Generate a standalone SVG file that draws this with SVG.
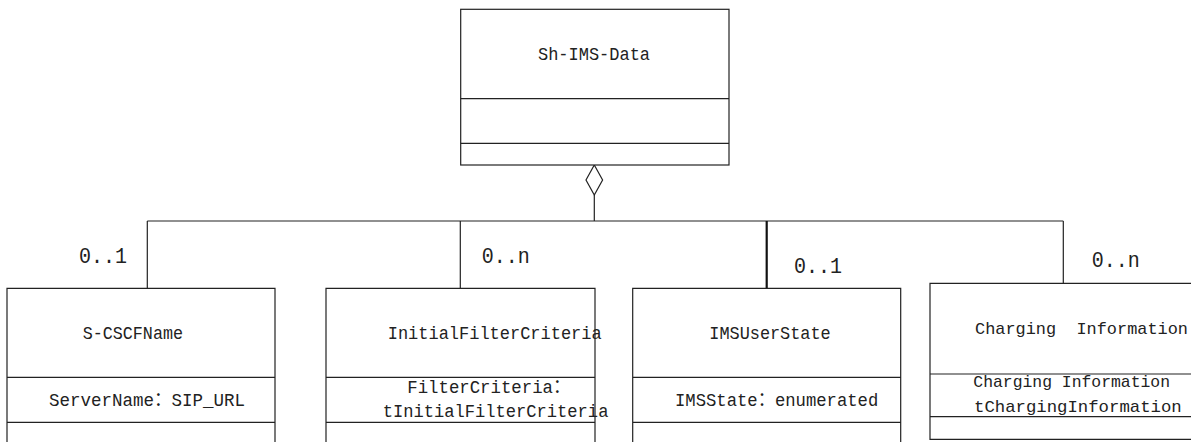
<svg xmlns="http://www.w3.org/2000/svg" width="1191" height="442" viewBox="0 0 1191 442">
<style>
.box{fill:#fff;stroke:#222;stroke-width:1.2}
.ln{stroke:#222;stroke-width:1.2;fill:none}
.t{font-family:"Liberation Mono","Noto Sans CJK SC",monospace;font-size:19px;fill:#222;white-space:pre}
.t4{font-family:"Liberation Mono","Noto Sans CJK SC",monospace;font-size:17px;fill:#222;white-space:pre}
.m{font-family:"Liberation Mono","Noto Sans CJK SC",monospace;font-size:22px;fill:#222}
</style>
<rect width="1191" height="442" fill="#fff"/>
<g id="connectors">
<path class="ln" d="M594.3 195 V221 M147.3 221 H1063.3 M147.3 221 V288.3 M460.3 221 V288.3 M1063.3 221 V283.3"/>
<path d="M766.7 221 V288.3" stroke="#111" stroke-width="2.2" fill="none"/>
<path class="ln" d="M594.3 165 L602.6 180 L594.3 195 L586 180 Z" fill="#fff"/>
<text class="m" x="79" y="263" textLength="48" lengthAdjust="spacingAndGlyphs">0..1</text>
<text class="m" x="481.7" y="263.3" textLength="48" lengthAdjust="spacingAndGlyphs">0..n</text>
<text class="m" x="794" y="272.7" textLength="48" lengthAdjust="spacingAndGlyphs">0..1</text>
<text class="m" x="1091.7" y="267.3" textLength="48" lengthAdjust="spacingAndGlyphs">0..n</text>
</g>
<g id="sh-ims-data">
<rect class="box" x="460.7" y="9.3" width="268.3" height="155.7"/>
<path class="ln" d="M460.7 98.7 H729 M460.7 143.3 H729"/>
<text class="t" x="538" y="60" textLength="112" lengthAdjust="spacingAndGlyphs">Sh-IMS-Data</text>
</g>
<g id="s-cscfname">
<path class="ln" d="M7 442 V288.3 H275 V442 M7 377.3 H275 M7 422.3 H275"/>
<text class="t" x="82.7" y="339" textLength="100.3" lengthAdjust="spacingAndGlyphs">S-CSCFName</text>
<text class="t" x="49" y="405.7" textLength="196" lengthAdjust="spacingAndGlyphs">ServerName：SIP_URL</text>
</g>
<g id="initialfiltercriteria">
<path class="ln" d="M326 442 V288.3 H595 V442 M326 377.3 H595 M326 422.3 H595"/>
<text class="t" x="387.7" y="339" textLength="214" lengthAdjust="spacingAndGlyphs">InitialFilterCriteria</text>
<text class="t" x="407.3" y="393.3" textLength="163" lengthAdjust="spacingAndGlyphs">FilterCriteria：</text>
<text class="t" x="382.7" y="416.7" textLength="225.7" lengthAdjust="spacingAndGlyphs">tInitialFilterCriteria</text>
</g>
<g id="imsuserstate">
<path class="ln" d="M632.7 442 V288.3 H900.7 V442 M632.7 377.3 H900.7 M632.7 422.3 H900.7"/>
<text class="t" x="709.3" y="339" textLength="121.4" lengthAdjust="spacingAndGlyphs">IMSUserState</text>
<text class="t" x="675" y="405.7" textLength="203.3" lengthAdjust="spacingAndGlyphs">IMSState：enumerated</text>
</g>
<g id="charging-information">
<path class="ln" d="M1191 283.3 H930 V439.3 H1191 M930 374 H1191 M930 416.7 H1191"/>
<text class="t4" x="975" y="334" textLength="213" lengthAdjust="spacingAndGlyphs" xml:space="preserve">Charging  Information</text>
<text class="t4" x="973.3" y="387.3" textLength="196.7" lengthAdjust="spacingAndGlyphs">Charging Information</text>
<text class="t4" x="974" y="411.7" textLength="207.7" lengthAdjust="spacingAndGlyphs">tChargingInformation</text>
</g>
</svg>
